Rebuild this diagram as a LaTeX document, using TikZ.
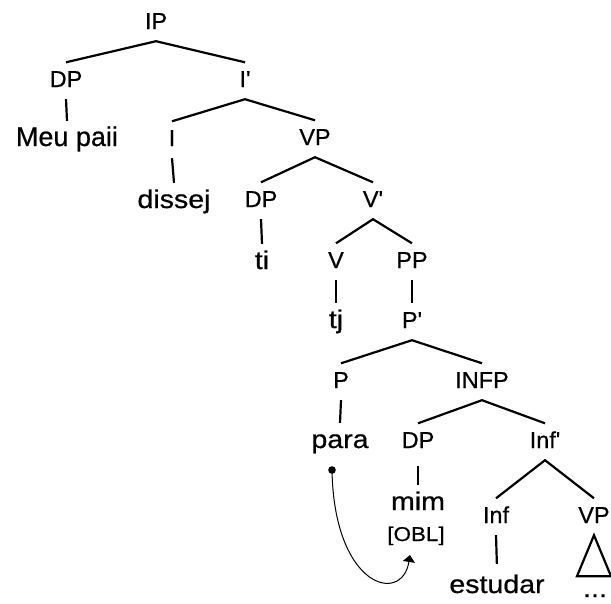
\documentclass[tikz,border=0pt]{standalone}
\usepackage{fontspec}
\setmainfont{Liberation Sans}
\newfontfamily\labfont[FakeStretch=1.02,FakeBold=0.6]{Liberation Sans}
\newfontfamily\termfont[FakeStretch=1.12,FakeBold=0.6]{Liberation Sans}
\newfontfamily\toptermfont[FakeStretch=1.0,FakeBold=0.6]{Liberation Sans}
\usetikzlibrary{arrows.meta}
\begin{document}
\begin{tikzpicture}[x=1pt,y=-1pt,
  lab/.style={font=\labfont\fontsize{23}{26}\selectfont, anchor=base,
    text height=16.5pt, text depth=4pt, inner xsep=0pt, inner ysep=8pt},
  term/.style={font=\termfont\fontsize{25.5}{29}\selectfont, anchor=base,
    text height=18pt, text depth=3pt, inner xsep=0pt, inner ysep=7pt},
  topterm/.style={term, font=\toptermfont\fontsize{27}{31}\selectfont},
  obl/.style={font=\termfont\fontsize{20}{23}\selectfont, anchor=base, inner sep=0pt},
  tree/.style={line width=2.2pt},
  move/.style={line width=1pt, -{Triangle[width=12pt,length=7pt]}}]
\useasboundingbox (0,0) rectangle (611,603);
\node[lab] (ip) at (156,29) {IP};
\node[lab] (dp1) at (66,87) {DP};
\node[lab] (ib) at (245,87) {I'};
\node[topterm] (meu) at (67,146) {Meu paii};
\node[lab] (i) at (172,146) {I};
\node[lab] (vp1) at (315,145) {VP};
\node[term] (disse) at (174,208) {dissej};
\node[lab] (dp2) at (261,207) {DP};
\node[lab] (vb) at (373,207) {V'};
\node[term] (ti) at (262,269) {ti};
\node[lab] (v) at (336,268) {V};
\node[lab] (pp) at (412,268) {PP};
\node[term] (tj) at (336,328) {tj};
\node[lab] (pb) at (412,328) {P'};
\node[lab] (p) at (341,388) {P};
\node[lab] (infp) at (482,388) {INFP};
\node[term] (para) at (340,448) {para};
\node[lab] (dp3) at (418,448) {DP};
\node[lab] (infb) at (545,448) {Inf'};
\node[term] (mim) at (418,510) {mim};
\node[obl] (obl) at (416,541) {[OBL]};
\node[lab] (inf) at (496,523) {Inf};
\node[lab] (vp2) at (594,523) {VP};
\node[term] (est) at (497,593) {estudar};
\node[term] (dots) at (595,597) {...};
\coordinate (dotpt) at (332,470);
\coordinate (tip) at (410,555);

\draw[tree] (dp1.north) -- (ip.south) -- (ib.north);
\draw[tree] (dp1.south) -- (meu.north);
\draw[tree] (i.north) -- (ib.south) -- (vp1.north);
\draw[tree] (i.south) -- (disse.north);
\draw[tree] (dp2.north) -- (vp1.south) -- (vb.north);
\draw[tree] (dp2.south) -- (ti.north);
\draw[tree] (v.north) -- (vb.south) -- (pp.north);
\draw[tree] (v.south) -- (tj.north);
\draw[tree] (pp.south) -- (pb.north);
\draw[tree] (p.north) -- (pb.south) -- (infp.north);
\draw[tree] (p.south) -- (para.north);
\draw[tree] (dp3.north) -- (infp.south) -- (infb.north);
\draw[tree, shorten <=6pt] (dp3.south) -- (mim.north);
\draw[tree] (inf.north) -- (infb.south) -- (vp2.north);
\draw[tree, shorten >=4pt] (inf.south) -- (est.north);
\draw[tree, line join=miter] (vp2.south) -- ++(-17,41) -- ++(34,0) -- cycle;

\fill (dotpt) circle (3.8);
\draw[move] (dotpt) .. controls (334,588) and (402,605) .. (tip);
\end{tikzpicture}
\end{document}
